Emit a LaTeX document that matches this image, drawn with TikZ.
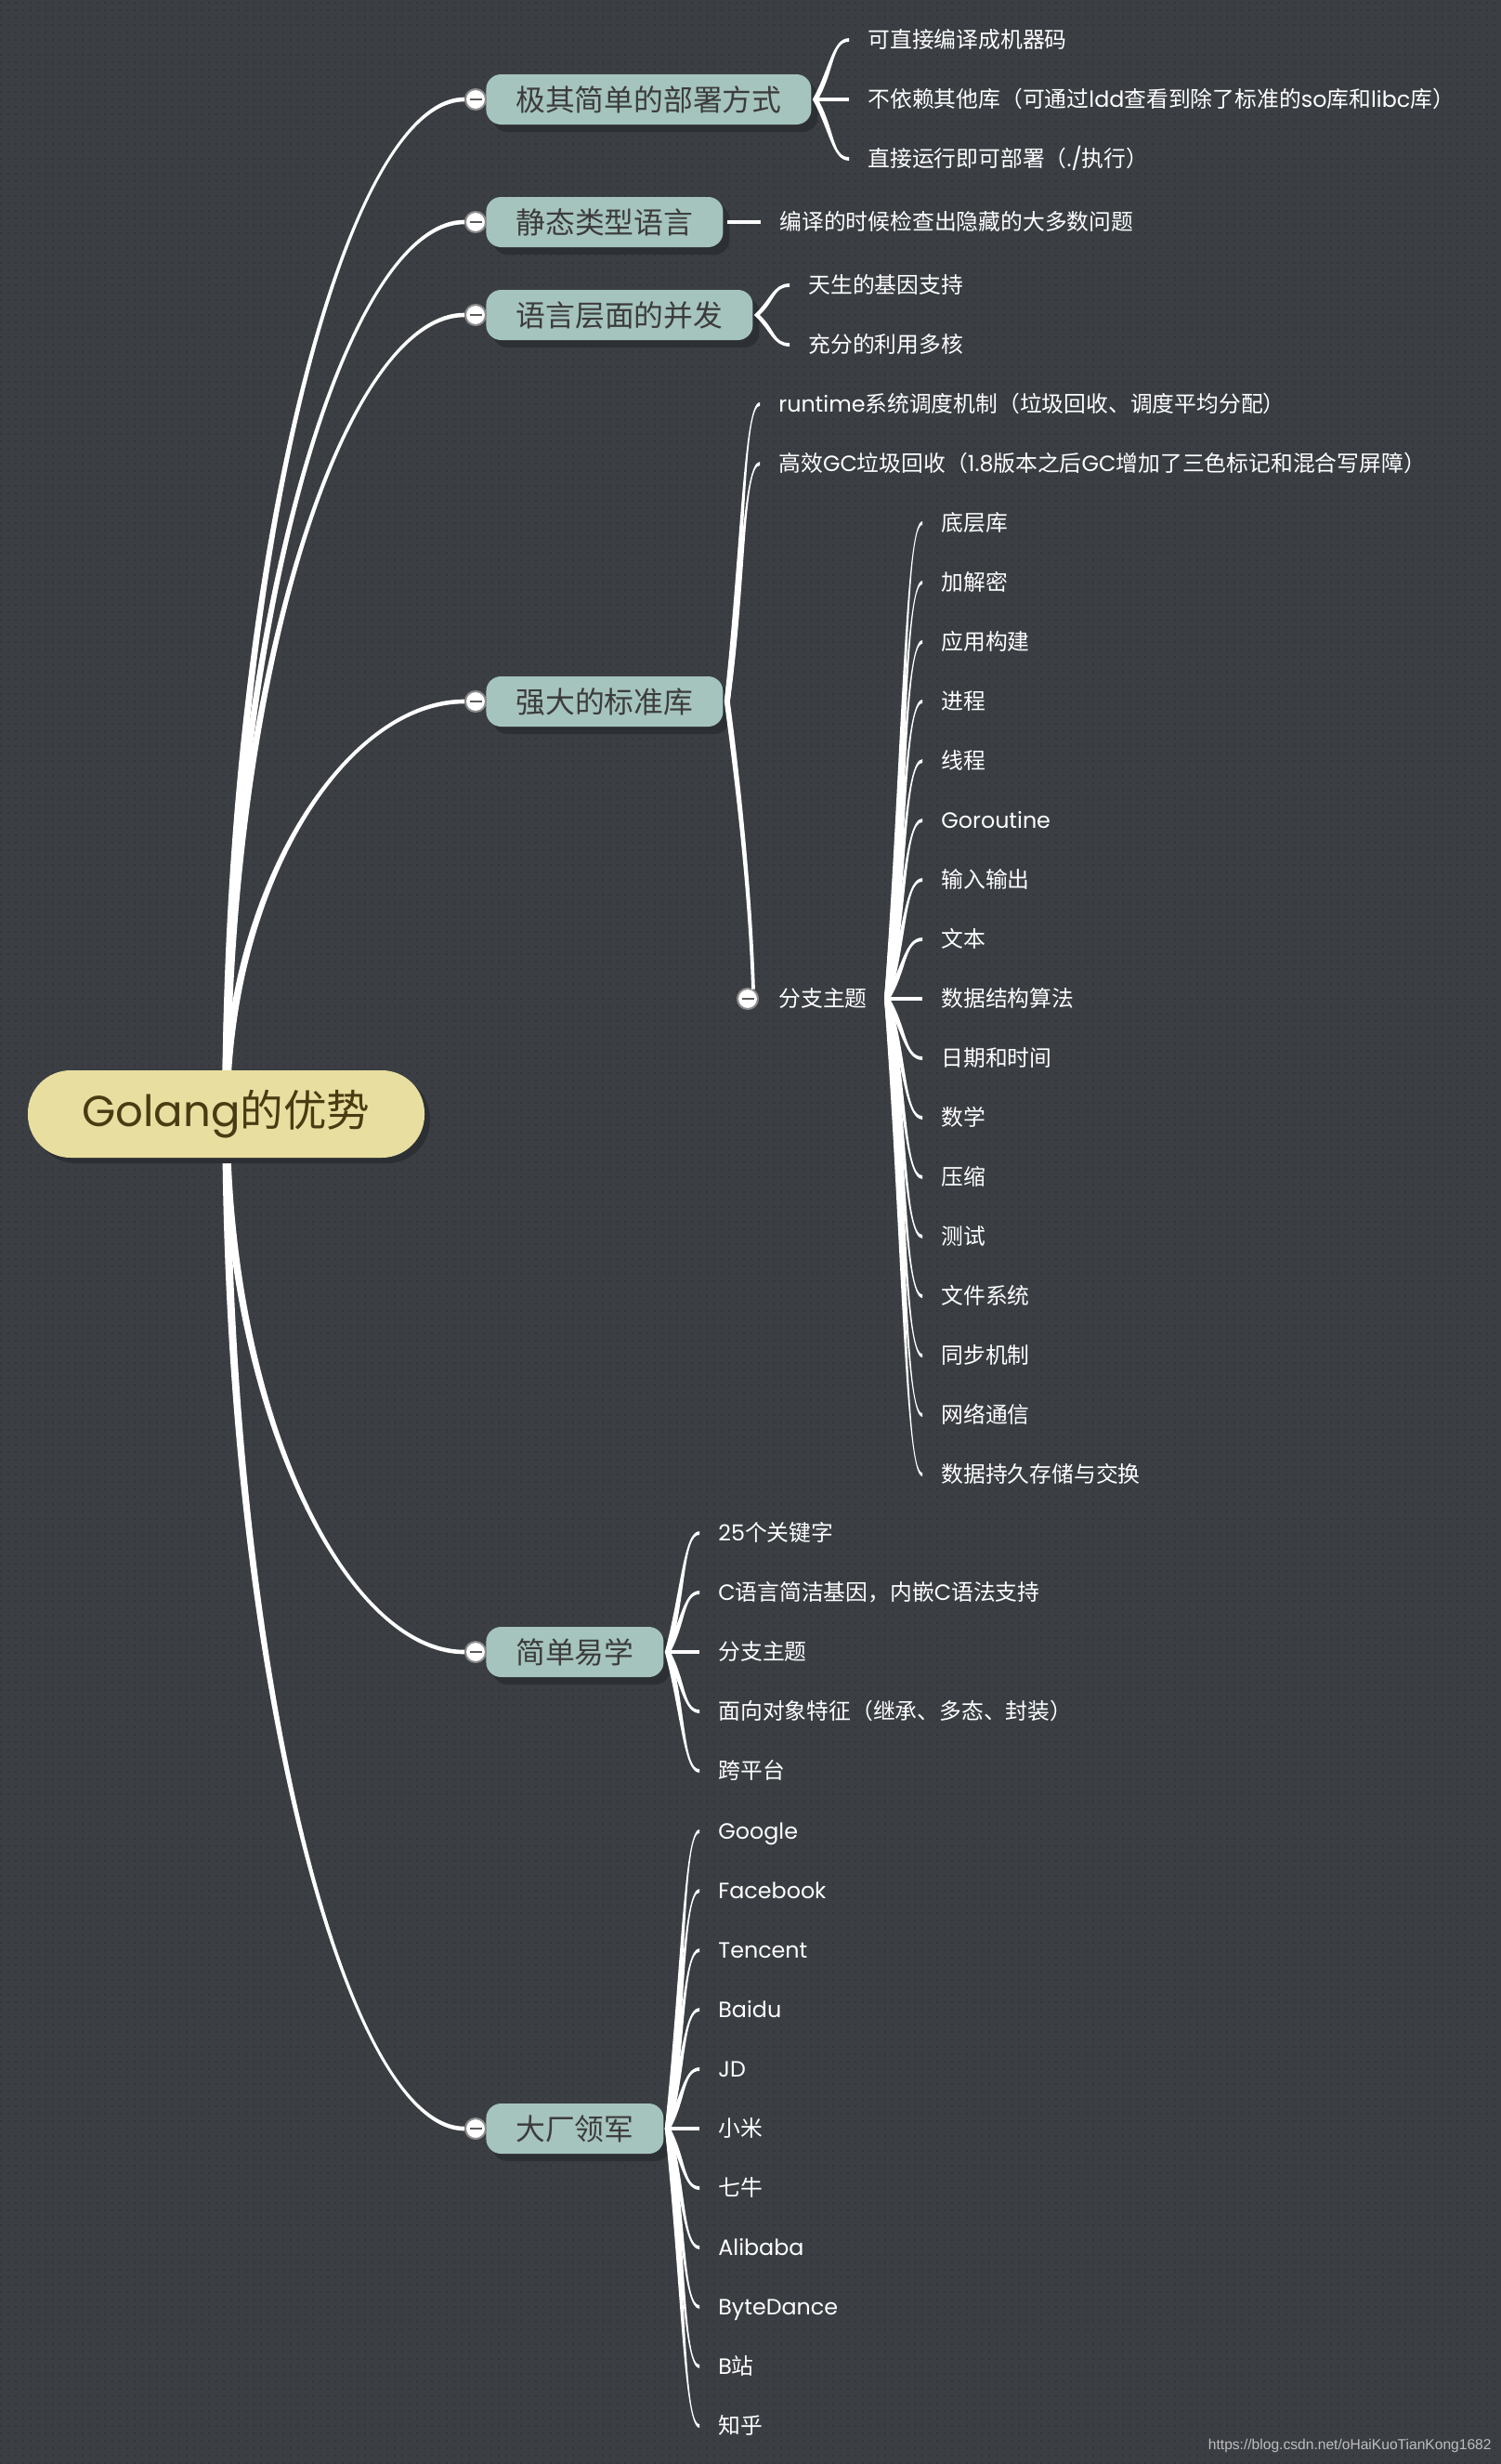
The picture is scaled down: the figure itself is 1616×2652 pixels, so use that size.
\documentclass[tikz,border=0pt]{standalone}
\usepackage{fontspec}
\setmainfont{Noto Sans CJK SC}
\newfontfamily\lat[Scale=1.0]{Poppins}
\newfontfamily\wmfont{Liberation Sans}
\usetikzlibrary{calc,shadows,patterns}
\definecolor{bgc}{HTML}{3B3F44}
\definecolor{dotc}{HTML}{33373B}
\definecolor{rootfill}{HTML}{E8DEA0}
\definecolor{roottext}{HTML}{4A3B12}
\definecolor{mainfill}{HTML}{A6C4BE}
\definecolor{maintext}{HTML}{3C3C3C}
\definecolor{shadowc}{HTML}{2C3034}
\definecolor{circborder}{HTML}{8C8C8C}
\definecolor{minusc}{HTML}{5A5A5A}
\definecolor{wmc}{HTML}{BDBDBD}
\pgfdeclarelayer{behind}
\pgfsetlayers{behind,main}
\pgfdeclarepatternformonly{bgdots}{\pgfqpoint{-0.1pt}{-0.1pt}}{\pgfqpoint{1.1pt}{1.1pt}}{\pgfqpoint{4pt}{4pt}}{\pgfpathrectangle{\pgfqpoint{0pt}{0pt}}{\pgfqpoint{1pt}{1pt}}\pgfusepath{fill}}
% tapered connector: start, control1, control2, end, start offset, end offset
\newcommand\taper[6]{\fill[wire] ($(#1)+(#5)$) .. controls ($(#2)+(#5)$) and ($(#3)+(#6)$) .. ($(#4)+(#6)$) -- ($(#4)-(#6)$) .. controls ($(#3)-(#6)$) and ($(#2)-(#5)$) .. ($(#1)-(#5)$) -- cycle;}
% root -> collapse circle ; #3 = 1 up, -1 down
\newcommand\trunk[3]{%
  \coordinate (tS) at (#1.center);
  \coordinate (tE) at (#2.west);
  \coordinate (tA) at ($(tS)!0.55!(tS |- tE)$);
  \coordinate (tB) at ($(tS |- tE)!0.5!(tE)$);
  \taper{tS}{tA}{tB}{tE}{-4.2,0}{0,#3*2.3}}
% junction -> leaf ; #3 = 1 up, -1 down
\newcommand\leafconn[3]{%
  \coordinate (lE) at ($(#2.west)+(-20,0)$);
  \coordinate (lA) at ($(#1)!0.5!(lE)$);
  \coordinate (lB) at ($(#1 |- lE)!0.5!(lE)$);
  \taper{#1}{lA}{lB}{lE}{-3,0}{0,#3*1.9}}
\newcommand\straightconn[2]{%
  \coordinate (lE) at ($(#2.west)+(-20,0)$);
  \fill[wire] ($(#1)+(0,2.2)$) -- ($(lE |- #1)+(0,2.2)$) -- ($(lE |- #1)+(0,-2.2)$) -- ($(#1)+(0,-2.2)$) -- cycle;}
\tikzset{
  wire/.style={fill=white},
  rootbox/.style={fill=rootfill, text=roottext, rounded corners=23pt, minimum width=213.5pt, minimum height=47pt, inner sep=0pt, font=\fontsize{23.3pt}{28pt}\selectfont, drop shadow={shadow xshift=3pt, shadow yshift=-3pt, fill=shadowc, opacity=1}},
  mainbox/.style={fill=mainfill, text=maintext, rounded corners=8pt, minimum height=27pt, inner sep=0pt, anchor=west, font=\fontsize{15.9pt}{19pt}\selectfont, drop shadow={shadow xshift=3.5pt, shadow yshift=-4pt, fill=shadowc, opacity=1}},
  leaftext/.style={text=white, anchor=west, inner sep=0pt, text height=10.4pt, text depth=1.5pt, font=\fontsize{11.9pt}{14pt}\selectfont},
  collapse/.style={circle, fill=white, draw=circborder, line width=1pt, minimum size=11pt, inner sep=0pt},
  minus/.style={draw=minusc, line width=1.2pt},
}
\begin{document}
\begin{tikzpicture}[x=0.5pt,y=0.5pt]
\useasboundingbox (0,0) rectangle (1616,-2652);
\begin{pgfonlayer}{behind}
  \fill[bgc] (0,0) rectangle (1616,-2652);
  \fill[pattern=bgdots, pattern color=dotc] (0,0) rectangle (1616,-2652);
\end{pgfonlayer}

% root
\node[rootbox] (root) at (243.5,-1199) {{\lat Golang}的优势};

% main topics
\node[mainbox, minimum width=175pt]   (b1) at (523,-107)  {极其简单的部署方式};
\node[mainbox, minimum width=127.5pt] (b2) at (523,-239)  {静态类型语言};
\node[mainbox, minimum width=143.5pt] (b3) at (523,-339)  {语言层面的并发};
\node[mainbox, minimum width=127.5pt] (b4) at (523,-755)  {强大的标准库};
\node[mainbox, minimum width=95.5pt]  (b5) at (523,-1778) {简单易学};
\node[mainbox, minimum width=95.5pt]  (b6) at (523,-2291) {大厂领军};

\foreach \b in {1,...,6}{
  \node[collapse] (c\b) at ($(b\b.west)+(-11,0)$) {};
  \draw[minus] ($(c\b.center)+(-6.5,0)$) -- ($(c\b.center)+(6.5,0)$);
  \coordinate (j\b) at ($(b\b.east)+(4,0)$);
}

% trunk connectors
\begin{pgfonlayer}{behind}
  \trunk{root}{c1}{1}
  \trunk{root}{c2}{1}
  \trunk{root}{c3}{1}
  \trunk{root}{c4}{1}
  \trunk{root}{c5}{-1}
  \trunk{root}{c6}{-1}
\end{pgfonlayer}

% branch 1
\node[leaftext] (l11) at (934,-43)  {可直接编译成机器码};
\node[leaftext] (l12) at (934,-107) {不依赖其他库（可通过{\lat ldd}查看到除了标准的{\lat so}库和{\lat libc}库）};
\node[leaftext] (l13) at (934,-171) {直接运行即可部署（{\lat ./}执行）};
\leafconn{j1}{l11}{1}
\straightconn{j1}{l12}
\leafconn{j1}{l13}{-1}

% branch 2
\node[leaftext] (l21) at (839,-239) {编译的时候检查出隐藏的大多数问题};
\straightconn{j2}{l21}

% branch 3
\node[leaftext] (l31) at (870,-307) {天生的基因支持};
\node[leaftext] (l32) at (870,-371) {充分的利用多核};
\leafconn{j3}{l31}{1}
\leafconn{j3}{l32}{-1}

% branch 4
\node[leaftext] (l41) at (838,-435) {{\lat runtime}系统调度机制（垃圾回收、调度平均分配）};
\node[leaftext] (l42) at (838,-499) {高效{\lat GC}垃圾回收（{\lat 1.8}版本之后{\lat GC}增加了三色标记和混合写屏障）};
\node[leaftext] (s4) at (838,-1075) {分支主题};
\node[collapse] (c4s) at ($(s4.west)+(-33,0)$) {};
\draw[minus] ($(c4s.center)+(-6.5,0)$) -- ($(c4s.center)+(6.5,0)$);
\leafconn{j4}{l41}{1}
\leafconn{j4}{l42}{1}
\coordinate (k4a) at ($(j4)+(8,-60)$);
\coordinate (k4b) at ($(c4s.60)+(-4,120)$);
\taper{j4}{k4a}{k4b}{c4s.60}{-3,0}{-1.9,0}
\coordinate (j4s) at ($(s4.east)+(21,0)$);

\foreach \t [count=\i] in {底层库,加解密,应用构建,进程,线程,{{\lat Goroutine}},输入输出,文本,数据结构算法,日期和时间,数学,压缩,测试,文件系统,同步机制,网络通信,数据持久存储与交换}{
  \node[leaftext] (m\i) at (1013,{-563-(\i-1)*64}) {\t};
}
\foreach \i in {1,...,8}{\leafconn{j4s}{m\i}{1}}
\straightconn{j4s}{m9}
\foreach \i in {10,...,17}{\leafconn{j4s}{m\i}{-1}}

% branch 5
\node[leaftext] (n1) at (773,-1650) {{\lat 25}个关键字};
\node[leaftext] (n2) at (773,-1714) {{\lat C}语言简洁基因，内嵌{\lat C}语法支持};
\node[leaftext] (n3) at (773,-1778) {分支主题};
\node[leaftext] (n4) at (773,-1842) {面向对象特征（继承、多态、封装）};
\node[leaftext] (n5) at (773,-1906) {跨平台};
\leafconn{j5}{n1}{1}
\leafconn{j5}{n2}{1}
\straightconn{j5}{n3}
\leafconn{j5}{n4}{-1}
\leafconn{j5}{n5}{-1}

% branch 6
\foreach \t [count=\i] in {{{\lat Google}},{{\lat Facebook}},{{\lat Tencent}},{{\lat Baidu}},{{\lat JD}},小米,七牛,{{\lat Alibaba}},{{\lat ByteDance}},{{\lat B}站},知乎}{
  \node[leaftext] (p\i) at (773,{-1971-(\i-1)*64}) {\t};
}
\foreach \i in {1,...,5}{\leafconn{j6}{p\i}{1}}
\straightconn{j6}{p6}
\foreach \i in {7,...,11}{\leafconn{j6}{p\i}{-1}}

% watermark
\node[anchor=east, inner sep=0pt, text=wmc, font=\wmfont\fontsize{7.8pt}{9pt}\selectfont] (wm) at (1606,-2632) {https://blog.csdn.net/oHaiKuoTianKong1682};
\end{tikzpicture}
\end{document}
